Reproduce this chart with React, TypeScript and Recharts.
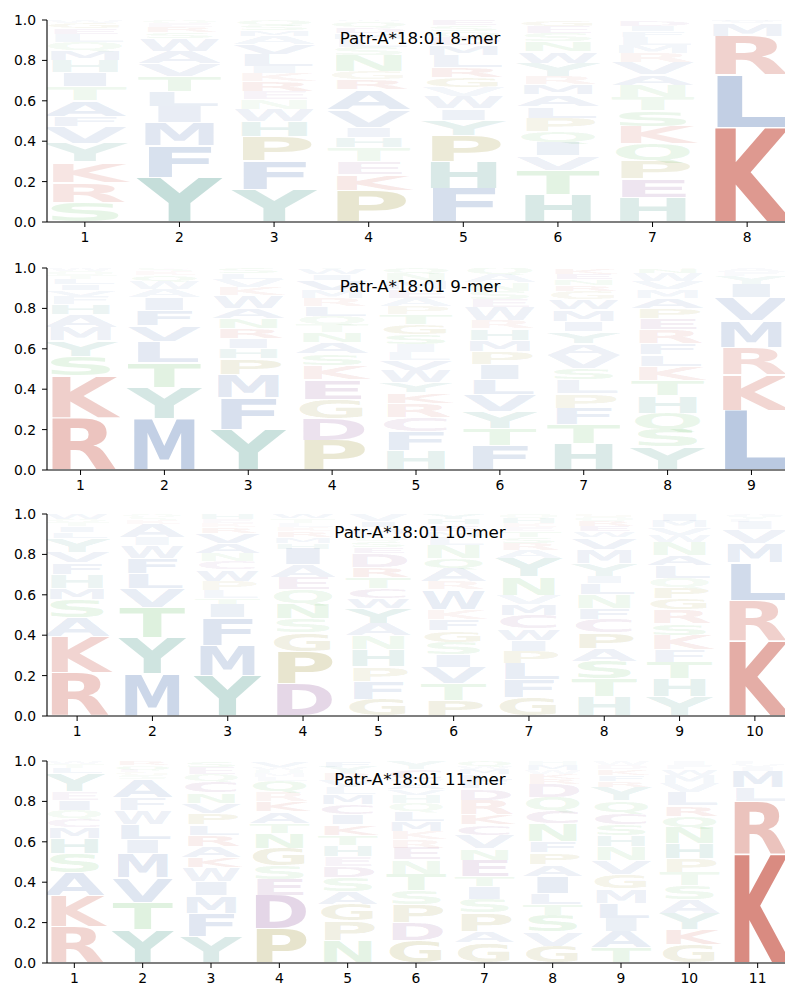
import React from "react";
import { BarChart, Bar, XAxis, YAxis } from "recharts";

// ---- Titles ----
const titles = [
  "Patr-A*18:01 8-mer",
  "Patr-A*18:01 9-mer",
  "Patr-A*18:01 10-mer",
  "Patr-A*18:01 11-mer",
];

const yTicks = [0, 0.2, 0.4, 0.6, 0.8, 1.0];

// ---- 8-mer (letters bottom -> top, heights = frequency) ----
const letters8 = [
  "SRKYVFATIHMQLEGW",
  "YFMILTVAWSREQ",
  "YFPHWNERKILVAMSQ",
  "PKETHIVARGNSLMDQW",
  "FHPYIWVGRLMDQSE",
  "HTVIQPLAMRYWNSEG",
  "HEPQKSTNAVRMLFID",
  "KLRMVI",
];
const heights8 = [
  [0.096, 0.1, 0.1, 0.094, 0.084, 0.05, 0.075, 0.07, 0.07, 0.06, 0.05, 0.04, 0.04, 0.03, 0.025, 0.016],
  [0.22, 0.155, 0.115, 0.08, 0.075, 0.075, 0.065, 0.06, 0.065, 0.03, 0.025, 0.02, 0.015],
  [0.16, 0.145, 0.12, 0.075, 0.06, 0.045, 0.04, 0.05, 0.04, 0.035, 0.06, 0.05, 0.04, 0.03, 0.025, 0.025],
  [0.157, 0.078, 0.063, 0.07, 0.05, 0.05, 0.086, 0.1, 0.05, 0.04, 0.08, 0.04, 0.04, 0.03, 0.03, 0.03, 0.006],
  [0.165, 0.135, 0.127, 0.075, 0.058, 0.06, 0.045, 0.05, 0.05, 0.06, 0.05, 0.04, 0.03, 0.03, 0.025],
  [0.137, 0.12, 0.07, 0.066, 0.055, 0.066, 0.058, 0.058, 0.05, 0.04, 0.066, 0.058, 0.05, 0.04, 0.036, 0.03],
  [0.12, 0.092, 0.092, 0.082, 0.087, 0.078, 0.066, 0.061, 0.05, 0.06, 0.046, 0.04, 0.04, 0.03, 0.026, 0.03],
  [0.467, 0.26, 0.193, 0.063, 0.01, 0.007],
];

// ---- 9-mer ----
const letters9 = [
  "RKSYMAHFVILTQW",
  "MYTLVFIAWQKS",
  "YFMPHIRNAWKVLS",
  "PDGEKSANTQLRMVIWY",
  "HFCRKYWVLISGTPAEMNQ",
  "FTYVLIPMHRWESNAQ",
  "HTFPLSVAYIMWGRNEK",
  "YSQHTKLFREPAMVWNG",
  "LKRMVIYFA",
];
const heights9 = [
  [0.26, 0.207, 0.095, 0.078, 0.066, 0.063, 0.05, 0.04, 0.03, 0.03, 0.025, 0.02, 0.018, 0.018],
  [0.254, 0.153, 0.124, 0.104, 0.078, 0.078, 0.063, 0.04, 0.04, 0.03, 0.02, 0.016],
  [0.2, 0.157, 0.116, 0.078, 0.05, 0.05, 0.05, 0.05, 0.05, 0.064, 0.04, 0.04, 0.03, 0.025],
  [0.146, 0.108, 0.096, 0.096, 0.071, 0.058, 0.055, 0.05, 0.04, 0.04, 0.05, 0.04, 0.04, 0.05, 0.03, 0.025, 0.005],
  [0.096, 0.096, 0.07, 0.07, 0.05, 0.05, 0.06, 0.05, 0.04, 0.04, 0.05, 0.05, 0.05, 0.04, 0.04, 0.04, 0.04, 0.04, 0.028],
  [0.12, 0.086, 0.085, 0.08, 0.075, 0.076, 0.063, 0.058, 0.058, 0.04, 0.066, 0.04, 0.04, 0.04, 0.04, 0.033],
  [0.13, 0.096, 0.08, 0.071, 0.071, 0.055, 0.066, 0.058, 0.058, 0.05, 0.058, 0.05, 0.04, 0.03, 0.03, 0.027, 0.03],
  [0.113, 0.088, 0.08, 0.085, 0.075, 0.071, 0.058, 0.058, 0.066, 0.058, 0.05, 0.05, 0.04, 0.04, 0.04, 0.023, 0.005],
  [0.295, 0.174, 0.138, 0.131, 0.116, 0.066, 0.04, 0.02, 0.02],
];

// ---- 10-mer ----
const letters10 = [
  "RKASMHFVYLITQW",
  "MYTVLFWIAKSQ",
  "YMFITLPWCNAVRKEH",
  "DPGSNQEAIHMRKLTW",
  "GFPHNAYWCTRDESQLMIV",
  "PTVISGFKWRAQNLMEHY",
  "GFLPIWCMVNYARSTEKHQ",
  "HTSAPCFNLIYMVWERQG",
  "YHTFKSRGPQLANWVMI",
  "KRLMVIFYA",
];
const heights10 = [
  [0.212, 0.18, 0.095, 0.088, 0.058, 0.07, 0.055, 0.053, 0.07, 0.03, 0.03, 0.02, 0.015, 0.024],
  [0.209, 0.179, 0.146, 0.095, 0.075, 0.078, 0.063, 0.04, 0.066, 0.02, 0.015, 0.014],
  [0.2, 0.15, 0.136, 0.066, 0.03, 0.04, 0.045, 0.058, 0.04, 0.04, 0.05, 0.05, 0.03, 0.02, 0.02, 0.025],
  [0.16, 0.16, 0.092, 0.07, 0.075, 0.07, 0.06, 0.06, 0.08, 0.03, 0.03, 0.03, 0.02, 0.02, 0.02, 0.023],
  [0.08, 0.092, 0.07, 0.085, 0.07, 0.06, 0.075, 0.05, 0.05, 0.055, 0.05, 0.07, 0.03, 0.03, 0.02, 0.015, 0.03, 0.03, 0.038],
  [0.076, 0.083, 0.08, 0.063, 0.063, 0.058, 0.056, 0.046, 0.1, 0.04, 0.066, 0.05, 0.066, 0.04, 0.03, 0.03, 0.028, 0.025],
  [0.088, 0.09, 0.08, 0.063, 0.053, 0.058, 0.066, 0.053, 0.046, 0.09, 0.095, 0.04, 0.033, 0.03, 0.03, 0.02, 0.02, 0.025, 0.02],
  [0.096, 0.088, 0.088, 0.063, 0.076, 0.066, 0.055, 0.071, 0.055, 0.033, 0.063, 0.071, 0.058, 0.03, 0.025, 0.025, 0.02, 0.017],
  [0.096, 0.088, 0.08, 0.063, 0.073, 0.058, 0.071, 0.055, 0.053, 0.046, 0.063, 0.05, 0.066, 0.035, 0.035, 0.033, 0.035],
  [0.37, 0.2, 0.19, 0.096, 0.066, 0.038, 0.014, 0.014, 0.012],
];

// ---- 11-mer ----
const letters11 = [
  "RKASHMCQIEYLTW",
  "YTVMILWFASGEQR",
  "YFMIWKARLPVNCQES",
  "PDESGNTAKRQLMHWV",
  "NPGASDEHTKICMLVRYF",
  "GDPSTNERKMLQHVAWCY",
  "GAPSITENVCKRDFLMWQ",
  "GVSTLIAPFNCQDRKWMH",
  "TAILMGVNHSCQYRFKDW",
  "GKYASTPHNQRLVMWFI",
  "KRLMIVF",
];
const heights11 = [
  [0.179, 0.154, 0.116, 0.095, 0.075, 0.055, 0.04, 0.043, 0.05, 0.04, 0.09, 0.03, 0.02, 0.013],
  [0.163, 0.133, 0.124, 0.12, 0.071, 0.075, 0.07, 0.063, 0.09, 0.02, 0.015, 0.01, 0.023, 0.023],
  [0.13, 0.116, 0.086, 0.071, 0.07, 0.05, 0.053, 0.058, 0.05, 0.058, 0.05, 0.05, 0.058, 0.035, 0.035, 0.03],
  [0.168, 0.166, 0.08, 0.066, 0.088, 0.075, 0.05, 0.058, 0.05, 0.046, 0.053, 0.02, 0.02, 0.015, 0.015, 0.03],
  [0.11, 0.1, 0.08, 0.063, 0.071, 0.056, 0.046, 0.058, 0.05, 0.05, 0.05, 0.05, 0.05, 0.035, 0.035, 0.033, 0.033, 0.03],
  [0.11, 0.09, 0.09, 0.07, 0.08, 0.07, 0.06, 0.04, 0.04, 0.05, 0.05, 0.04, 0.04, 0.03, 0.03, 0.02, 0.05, 0.04],
  [0.1, 0.055, 0.093, 0.066, 0.063, 0.05, 0.083, 0.058, 0.066, 0.05, 0.05, 0.073, 0.058, 0.04, 0.03, 0.025, 0.015, 0.025],
  [0.083, 0.07, 0.083, 0.053, 0.055, 0.086, 0.058, 0.058, 0.055, 0.09, 0.063, 0.066, 0.066, 0.025, 0.025, 0.02, 0.024, 0.02],
  [0.075, 0.08, 0.066, 0.075, 0.071, 0.07, 0.071, 0.071, 0.053, 0.055, 0.058, 0.058, 0.066, 0.03, 0.03, 0.03, 0.021, 0.02],
  [0.09, 0.076, 0.08, 0.066, 0.071, 0.066, 0.066, 0.075, 0.08, 0.058, 0.05, 0.066, 0.045, 0.04, 0.03, 0.022, 0.019],
  [0.535, 0.265, 0.07, 0.08, 0.02, 0.015, 0.015],
];

// ---- colour scheme by residue class ----
const RED = "#c75243";
const BLUE = "#4c72b0";
const TEAL = "#3a8f81";
const OLIVE = "#968c28";
const PURPLE = "#8a4a94";
const GREEN = "#5cb85c";
const COLORS: Record<string, string> = {
  K: RED, R: RED,
  L: BLUE, M: BLUE, F: BLUE, V: BLUE, I: BLUE, W: BLUE, A: BLUE,
  Y: TEAL, H: TEAL,
  P: OLIVE, G: OLIVE,
  D: PURPLE, E: PURPLE, C: PURPLE,
  S: GREEN, T: GREEN, N: GREEN, Q: GREEN,
};

function buildRows(letters: string[], heights: number[][]) {
  return letters.map((col, i) => {
    const row: any = { pos: i + 1 };
    col.split("").forEach((ch, k) => {
      row["h" + k] = heights[i][k];
      row["l" + k] = ch;
    });
    return row;
  });
}

const CAP = 72.9; // cap height of DejaVu Sans Bold at font-size 100

function Glyph(props: any) {
  const { x, y, width, height, payload, layer } = props;
  if (!payload) return null;
  const ch = payload["l" + layer];
  const h = payload["h" + layer];
  if (!ch || !(height > 0.2) || !(width > 0)) return null;
  const pad = Math.min(0.8, height * 0.04);
  const gh = height - 2 * pad;
  const sy = gh / CAP;
  const tl = width * 1.1;
  const dx = -width * 0.05;
  const op = Math.min(1, 0.03 + 1.2 * h);
  return (
    <text
      x={0}
      y={0}
      fontFamily="DejaVu Sans"
      fontWeight="bold"
      fontSize={100}
      textLength={tl}
      lengthAdjust="spacingAndGlyphs"
      fill={COLORS[ch] || "#999"}
      fillOpacity={op}
      transform={`translate(${x + dx},${y + height - pad}) scale(1,${sy})`}
    >
      {ch}
    </text>
  );
}

const tickStyle = { fill: "#000", fontSize: 13.9, fontFamily: "DejaVu Sans" };

function LogoPanel({ title, letters, heights, top }: any) {
  const rows = buildRows(letters, heights);
  const n = letters.length;
  const xticks = letters.map((_: string, i: number) => i + 1);
  const maxLayers = Math.max(...letters.map((s: string) => s.length));
  const layers = Array.from({ length: maxLayers }, (_, k) => k);
  return (
    <div style={{ position: "absolute", left: 0, top, width: 800, height: 247 }}>
      <BarChart
        width={800}
        height={247}
        data={rows}
        margin={{ top: 20, right: 15, bottom: 0, left: 0 }}
        barCategoryGap="10%"
      >
        <XAxis
          dataKey="pos"
          type="number"
          domain={[0.6, n + 0.4]}
          ticks={xticks}
          allowDataOverflow
          height={25}
          tickSize={5}
          tickMargin={5}
          tick={tickStyle}
          axisLine={{ stroke: "#000", strokeWidth: 1.1 }}
          tickLine={{ stroke: "#000" }}
          interval={0}
        />
        <YAxis
          type="number"
          domain={[0, 1]}
          ticks={yTicks}
          allowDataOverflow
          width={47}
          tickSize={5}
          tickMargin={6}
          tick={tickStyle}
          tickFormatter={(v: number) => v.toFixed(1)}
          axisLine={{ stroke: "#000", strokeWidth: 1.1 }}
          tickLine={{ stroke: "#000" }}
          interval={0}
        />
        {layers.map((k) => (
          <Bar
            key={k}
            dataKey={"h" + k}
            stackId="s"
            isAnimationActive={false}
            shape={(p: any) => <Glyph {...p} layer={k} />}
          />
        ))}
      </BarChart>
      <svg
        width={800}
        height={60}
        style={{ position: "absolute", left: 0, top: 0, pointerEvents: "none" }}
      >
        <text x={420} y={44} textAnchor="middle" fontFamily="DejaVu Sans" fontSize={16.7} fill="#000">
          {title}
        </text>
      </svg>
    </div>
  );
}

export default function App() {
  return (
    <div style={{ position: "absolute", left: 0, top: 0, width: 800, height: 1000, background: "#fff" }}>
      <LogoPanel title={titles[0]} letters={letters8} heights={heights8} top={0} />
      <LogoPanel title={titles[1]} letters={letters9} heights={heights9} top={248} />
      <LogoPanel title={titles[2]} letters={letters10} heights={heights10} top={494} />
      <LogoPanel title={titles[3]} letters={letters11} heights={heights11} top={741} />
    </div>
  );
}
